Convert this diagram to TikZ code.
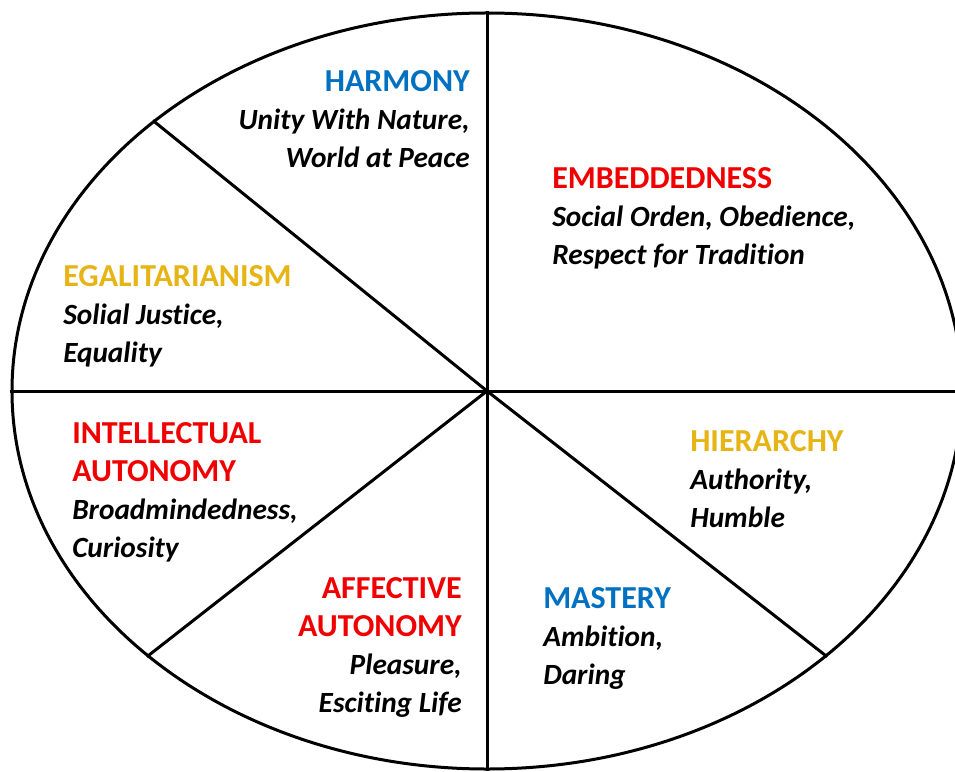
\documentclass[tikz,border=0pt]{standalone}
\usepackage{fontspec}
\setmainfont{Carlito}[Ligatures=NoCommon]
\usepackage{xcolor}
\usetikzlibrary{shapes.geometric,positioning}

\definecolor{valblue}{RGB}{0,112,192}
\definecolor{valred}{RGB}{240,0,0}
\definecolor{valgold}{RGB}{230,180,20}

\newcommand{\valtitle}[2]{\textcolor{#1}{\fontsize{24}{28.5}\selectfont\upshape #2}}

\begin{document}
\begin{tikzpicture}[
    x=0.75pt, y=0.75pt,
    rim/.style={ellipse, draw, line width=2.25pt, minimum width=712.5pt, minimum height=567pt, inner sep=0pt},
    spoke/.style={line width=2.25pt},
    valtext/.style={inner sep=0pt, font=\fontsize{22}{28.5}\selectfont\bfseries\itshape}
]
\useasboundingbox (-487,-380) rectangle (468,391);

% Outline and spokes
\node[rim] (wheel) at (0,0) {};
\draw[spoke] (wheel.north) -- (wheel.south);
\draw[spoke] (wheel.west) -- (wheel.east);
\draw[spoke] (wheel.center) -- (wheel.141.5);
\draw[spoke] (wheel.center) -- (wheel.218.5);
\draw[spoke] (wheel.center) -- (wheel.-38.5);

% Upper half
\node[valtext, anchor=north east, align=right] (harmony) at (-17,321)
    {\valtitle{valblue}{HARMONY}\\Unity With Nature,\\World at Peace};
\node[valtext, anchor=north west, align=left] (embed) at (65,224)
    {\valtitle{valred}{EMBEDDEDNESS}\\Social Orden, Obedience,\\Respect for Tradition};
\node[valtext, anchor=north west, align=left] (egal) at (-424,126)
    {\valtitle{valgold}{EGALITARIANISM}\\Solial Justice,\\Equality};

% Lower half
\node[valtext, anchor=north west, align=left] (intel) at (-415,-31)
    {\valtitle{valred}{INTELLECTUAL}\\\valtitle{valred}{AUTONOMY}\\Broadmindedness,\\Curiosity};
\node[valtext, anchor=north west, align=left] (hier) at (203,-39)
    {\valtitle{valgold}{HIERARCHY}\\Authority,\\Humble};
\node[valtext, anchor=north east, align=right] (affect) at (-25,-186)
    {\valtitle{valred}{AFFECTIVE}\\\valtitle{valred}{AUTONOMY}\\Pleasure,\\Esciting Life};
\node[valtext, anchor=north west, align=left] (mastery) at (56,-196)
    {\valtitle{valblue}{MASTERY}\\Ambition,\\Daring};
\end{tikzpicture}
\end{document}
